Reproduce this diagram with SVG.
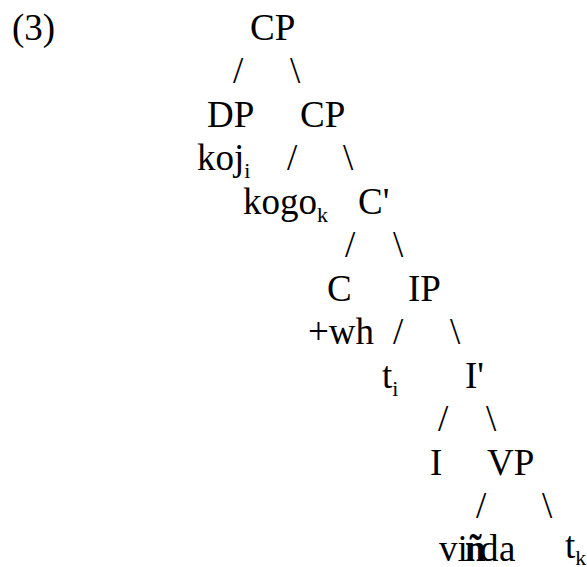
<svg xmlns="http://www.w3.org/2000/svg" width="587" height="567" viewBox="0 0 587 567">
  <rect width="587" height="567" fill="#fff"/>

  <!-- all labels share one serif face and size; subscripts are smaller tspans -->
  <g font-family="Liberation Serif" font-size="37" fill="#000">
  <!-- example number -->
  <text x="12" y="40">(3)</text>

  <!-- tree nodes -->
  <g id="cp-root"><text x="250" y="40">CP</text></g>
  <g id="dp"><text x="207" y="127">DP</text></g>
  <g id="dp-koj"><text x="197" y="170">koj<tspan font-size="22" dy="8">i</tspan></text></g>
  <g id="cp-lower"><text x="300" y="127">CP</text></g>
  <g id="kogo"><text x="243" y="214">kogo<tspan font-size="22" dy="8">k</tspan></text></g>
  <g id="c-bar"><text x="358" y="214">C'</text></g>
  <g id="c-head"><text x="327" y="301">C</text></g>
  <g id="c-wh"><text x="308" y="344">+wh</text></g>
  <g id="ip"><text x="408" y="301">IP</text></g>
  <g id="trace-i"><text x="382" y="388">t<tspan font-size="22" dy="8">i</tspan></text></g>
  <g id="i-bar"><text x="465" y="388">I'</text></g>
  <g id="i-head"><text x="430" y="475">I</text></g>
  <g id="vp"><text x="487" y="475">VP</text></g>
  <g id="verb">
    <text x="439" y="561">vi</text>
    <text x="465" y="561" font-weight="bold">ñ</text>
    <text x="480" y="561">d</text>
    <text x="499" y="561">a</text>
  </g>
  <g id="trace-k"><text x="565" y="558">t<tspan font-size="22" dy="7">k</tspan></text></g>

  <!-- branches drawn as slash characters -->
  <g id="connectors">
    <text x="233" y="83">/</text>
    <text x="290" y="83">\</text>
    <text x="287" y="170">/</text>
    <text x="343" y="170">\</text>
    <text x="345" y="257">/</text>
    <text x="393" y="257">\</text>
    <text x="393" y="344">/</text>
    <text x="450" y="344">\</text>
    <text x="438" y="431">/</text>
    <text x="486" y="431">\</text>
    <text x="476" y="518">/</text>
    <text x="542" y="518">\</text>
  </g>
  </g>
</svg>
